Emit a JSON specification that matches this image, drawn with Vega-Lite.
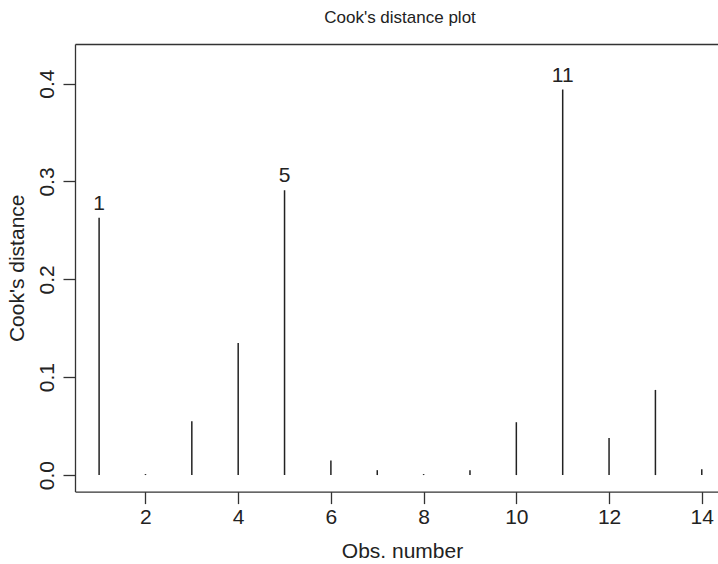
{
  "$schema": "https://vega.github.io/schema/vega-lite/v6.json",
  "width": 643,
  "height": 447.6,
  "autosize": {"type": "none"},
  "padding": {"left": 75, "top": 44, "right": 0, "bottom": 72.4},
  "title": {"text": "Cook's distance plot", "fontSize": 17, "font": "Liberation Sans", "fontWeight": "normal", "color": "#222", "anchor": "middle", "frame": "group", "dx": 3.5, "baseline": "alphabetic", "offset": 4},
  "data": {"values": [
    {"obs": 1, "cook": 0.263, "label": "1"},
    {"obs": 2, "cook": 0.001, "label": ""},
    {"obs": 3, "cook": 0.055, "label": ""},
    {"obs": 4, "cook": 0.135, "label": ""},
    {"obs": 5, "cook": 0.291, "label": "5"},
    {"obs": 6, "cook": 0.015, "label": ""},
    {"obs": 7, "cook": 0.005, "label": ""},
    {"obs": 8, "cook": 0.001, "label": ""},
    {"obs": 9, "cook": 0.005, "label": ""},
    {"obs": 10, "cook": 0.054, "label": ""},
    {"obs": 11, "cook": 0.394, "label": "11"},
    {"obs": 12, "cook": 0.038, "label": ""},
    {"obs": 13, "cook": 0.087, "label": ""},
    {"obs": 14, "cook": 0.006, "label": ""}
  ]},
  "layer": [
    {
      "mark": {"type": "rule", "color": "#222", "strokeWidth": 1.5},
      "encoding": {
        "x": {"field": "obs", "type": "quantitative", "scale": {"domain": [0.48, 14.35], "nice": false, "zero": false},
          "axis": {"orient": "bottom", "values": [2, 4, 6, 8, 10, 12, 14], "labelPadding": 3, "labelBaseline": "top", "labelFlush": false, "labelOverlap": false, "title": "Obs. number", "titleY": 59.4, "titleX": 327, "titleBaseline": "middle"}},
        "y": {"field": "cook", "type": "quantitative", "scale": {"domain": [-0.0169, 0.4405], "nice": false, "zero": false},
          "axis": {"values": [0, 0.1, 0.2, 0.3, 0.4], "format": ".1f", "labelAngle": -90, "labelAlign": "center", "labelBaseline": "alphabetic", "labelPadding": 10, "labelFlush": false, "labelOverlap": false, "title": "Cook's distance", "titleAngle": -90, "titleX": -58, "titleBaseline": "middle"}},
        "y2": {"datum": 0}
      }
    },
    {
      "transform": [{"filter": "datum.label != ''"}],
      "mark": {"type": "text", "fontSize": 21, "baseline": "alphabetic", "align": "center", "dy": -8, "color": "#222"},
      "encoding": {
        "x": {"field": "obs", "type": "quantitative", "axis": {"orient": "top", "labels": false, "ticks": false, "title": null, "domain": true}},
        "y": {"field": "cook", "type": "quantitative"},
        "text": {"field": "label"}
      }
    }
  ],
  "resolve": {"axis": {"x": "independent"}},
  "config": {
    "font": "Liberation Sans",
    "view": {"stroke": null},
    "axis": {"grid": false, "domainColor": "#333", "tickColor": "#333", "labelColor": "#222", "titleColor": "#222", "labelFontSize": 21, "titleFontSize": 21, "titleFontWeight": "normal", "tickSize": 12, "domainWidth": 1.3, "tickWidth": 1.3, "labelFont": "Liberation Sans", "titleFont": "Liberation Sans"}
  }
}
